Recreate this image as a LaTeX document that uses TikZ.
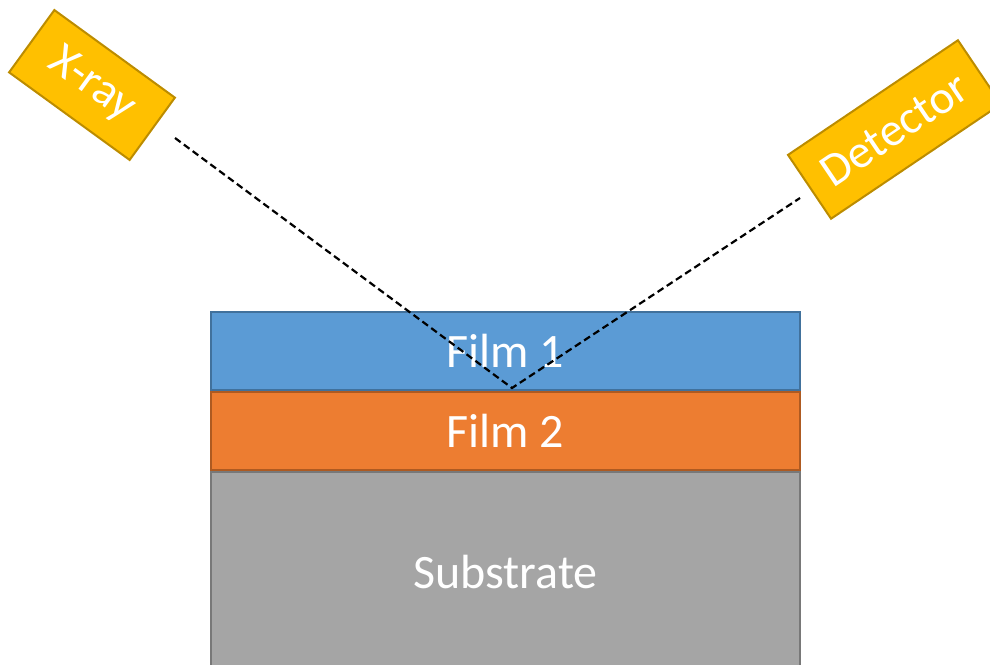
\documentclass[tikz,border=0pt]{standalone}
\usepackage{fontspec}
\setmainfont{Carlito}
\definecolor{filmA}{HTML}{5B9BD5}
\definecolor{filmAedge}{HTML}{41719C}
\definecolor{filmB}{HTML}{ED7D31}
\definecolor{filmBedge}{HTML}{AE5A21}
\definecolor{subst}{HTML}{A5A5A5}
\definecolor{substedge}{HTML}{787878}
\definecolor{gear}{HTML}{FFC000}
\definecolor{gearedge}{HTML}{BC8C00}

\begin{document}
\begin{tikzpicture}[x=1pt, y=-1pt, line width=2pt,
    layer/.style={draw, rectangle, minimum width=589pt, inner sep=0pt,
      text=white, font=\fontsize{48}{50}\selectfont},
    unit/.style={draw=gearedge, fill=gear, rectangle, inner sep=0pt,
      minimum height=77pt, text=white, font=\fontsize{47}{50}\selectfont},
    beam/.style={black, dash pattern=on 7pt off 4pt, line width=2.2pt}]
  \useasboundingbox (0,0) rectangle (990,664);
  \node[layer, fill=subst, draw=substedge, minimum height=200pt] (sub) at (505.5,572) {Substrate};
  \node[layer, fill=filmB, draw=filmBedge, minimum height=78pt] (film2) at (505.5,431) {Film 2};
  \node[layer, fill=filmA, draw=filmAedge, minimum height=78pt] (film1) at (505.5,351) {Film 1};
  \node[unit, minimum width=149pt, rotate=-36] (xray) at (92,85) {X-ray};
  \node[unit, minimum width=205pt, rotate=34] (det) at (894.5,129.5) {Detector};
  \coordinate (beamin) at (175,138);
  \coordinate (hit) at (512,388);
  \coordinate (beamout) at (800,198);
  \draw[beam] (beamin) -- (hit) -- (beamout);
\end{tikzpicture}
\end{document}
